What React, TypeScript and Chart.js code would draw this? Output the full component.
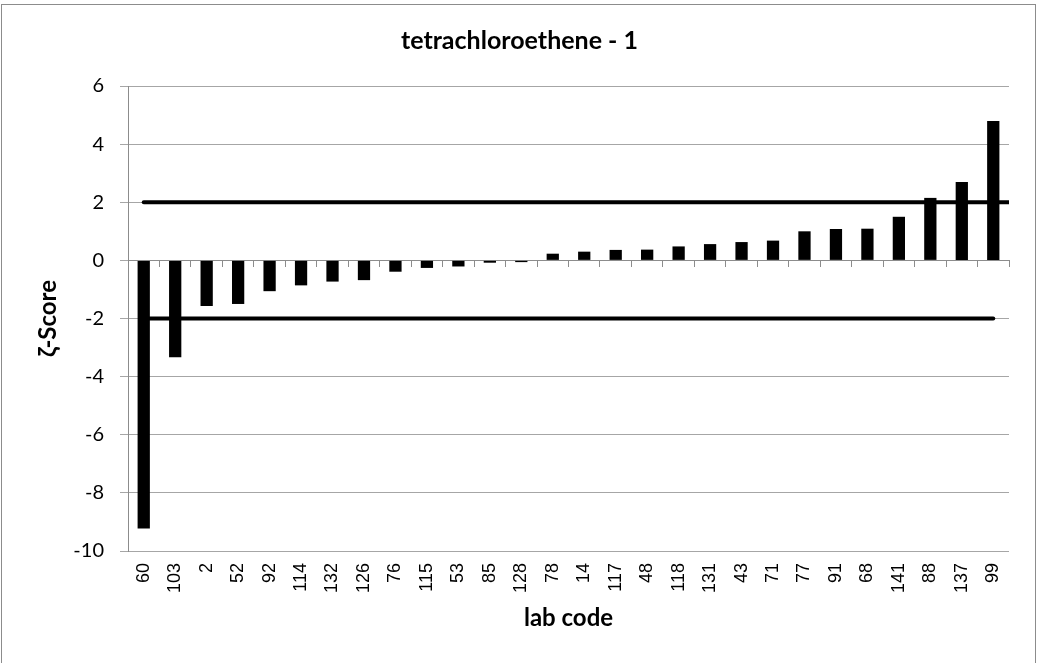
import React, { useEffect, useRef } from "react";
import { Chart, registerables } from "chart.js";

Chart.register(...registerables);

const labCodes = [
  "60", "103", "2", "52", "92", "114", "132", "126", "76", "115", "53", "85", "128", "78",
  "14", "117", "48", "118", "131", "43", "71", "77", "91", "68", "141", "88", "137", "99",
];
const zScores = [
  -9.23, -3.33, -1.57, -1.5, -1.06, -0.86, -0.73, -0.68, -0.39, -0.26, -0.21, -0.08, -0.06, 0.23,
  0.3, 0.36, 0.37, 0.48, 0.56, 0.63, 0.68, 1.0, 1.08, 1.09, 1.5, 2.15, 2.7, 4.8,
];
const upperLimit = [2, 2];
const lowerLimit = [-2, -2];
const yMin = -10;
const yMax = 6;
const yStep = 2;

const GRID = "#a6a6a6";
const AXIS = "#8c8c8c";

const frame = {
  id: "frame",
  beforeDraw(chart: any) {
    const ctx = chart.ctx;
    ctx.save();
    ctx.fillStyle = "#ffffff";
    ctx.fillRect(0, 0, chart.width, chart.height);
    ctx.strokeStyle = AXIS;
    ctx.lineWidth = 1;
    ctx.strokeRect(1.5, 4.5, 1034, 700);
    ctx.restore();
  },
};

export default function App() {
  const ref = useRef<HTMLCanvasElement>(null);
  useEffect(() => {
    const canvas = ref.current!;
    const last = labCodes.length - 1;
    const lineStyle = {
      type: "line",
      xAxisID: "xLine",
      yAxisID: "y",
      borderColor: "#000",
      borderWidth: 4,
      borderCapStyle: "round",
      pointRadius: 0,
      order: 0,
    };
    const chart = new Chart(canvas, {
      type: "bar",
      data: {
        labels: labCodes,
        datasets: [
          {
            ...lineStyle,
            label: "upper",
            data: [
              { x: 0, y: upperLimit[0] },
              { x: last + 0.5, y: upperLimit[1] },
            ],
          } as any,
          {
            ...lineStyle,
            label: "lower",
            data: [
              { x: 0, y: lowerLimit[0] },
              { x: last, y: lowerLimit[1] },
            ],
          } as any,
          {
            type: "bar",
            label: "ζ-Score",
            data: zScores,
            backgroundColor: "#000",
            barPercentage: 0.39,
            categoryPercentage: 1,
            grouped: false,
            xAxisID: "x",
            yAxisID: "y",
            order: 1,
          } as any,
        ],
      },
      options: {
        responsive: false,
        animation: false,
        devicePixelRatio: 1,
        layout: { padding: { left: 0, right: 0, top: 0, bottom: 0 } },
        plugins: {
          legend: { display: false },
          tooltip: { enabled: false },
          title: {
            display: true,
            text: "tetrachloroethene - 1",
            color: "#000",
            font: { family: "Lato", size: 25, weight: "bold" },
            padding: { top: 26, bottom: 30 },
          },
        },
        scales: {
          x: {
            type: "category",
            position: "bottom",
            offset: true,
            weight: 1,
            grid: { display: false, drawTicks: false, tickLength: 0 },
            border: { display: false },
            ticks: {
              autoSkip: false,
              minRotation: 90,
              maxRotation: 90,
              padding: 12,
              color: "#000",
              font: { family: "Liberation Sans", size: 18 },
            },
            title: {
              display: true,
              text: "lab code",
              color: "#000",
              font: { family: "Lato", size: 24, weight: "bold" },
              padding: { top: 0, bottom: 30 },
            },
            afterFit(scale: any) {
              scale.height = 112;
            },
          },
          xLine: {
            type: "linear",
            position: "bottom",
            weight: 2,
            offset: false,
            min: -0.5,
            max: last + 0.5,
            grid: { display: false, drawTicks: false },
            border: { display: false },
            ticks: { display: false },
            afterFit(scale: any) {
              scale.height = 0;
            },
          } as any,
          xZero: {
            type: "category",
            position: { y: 0 },
            offset: true,
            grid: {
              offset: true,
              drawOnChartArea: false,
              drawTicks: true,
              tickLength: 6,
              color: AXIS,
            },
            border: { display: true, color: AXIS, width: 1 },
            ticks: { display: false },
          } as any,
          y: {
            type: "linear",
            min: yMin,
            max: yMax,
            grid: { color: GRID, tickLength: 8, drawTicks: true },
            border: { display: true, color: AXIS },
            ticks: {
              stepSize: yStep,
              padding: 16,
              color: "#000",
              font: { family: "Lato", size: 20 },
            },
            title: {
              display: true,
              text: "ζ-Score",
              color: "#000",
              font: { family: "Lato", size: 24, weight: "bold" },
              padding: { top: 34, bottom: 0 },
            },
            afterFit(scale: any) {
              scale.width = 128;
            },
          },
          yRight: {
            type: "linear",
            position: "right",
            min: yMin,
            max: yMax,
            grid: { display: false, drawTicks: false },
            border: { display: false },
            ticks: { display: false },
            afterFit(scale: any) {
              scale.width = 30;
            },
          } as any,
        },
      },
      plugins: [frame],
    });
    return () => chart.destroy();
  }, []);

  return (
    <div style={{ position: "absolute", left: 0, top: 0, width: 1039, height: 663, background: "#fff" }}>
      <canvas ref={ref} width={1039} height={663} style={{ display: "block", width: 1039, height: 663 }} />
    </div>
  );
}
